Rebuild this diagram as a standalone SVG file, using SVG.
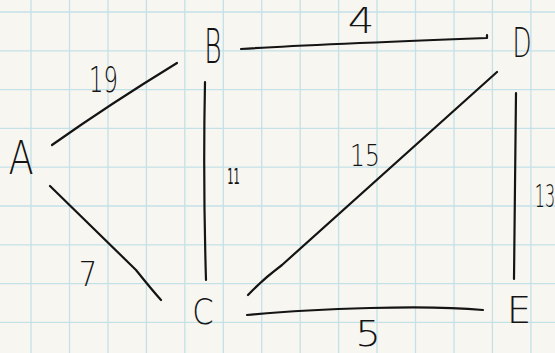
<svg xmlns="http://www.w3.org/2000/svg" width="555" height="353" viewBox="0 0 555 353">
  <style>
    .grid { stroke: #c3e1e7; stroke-width: 1.3; fill: none; }
    .edge { stroke: #141414; stroke-width: 2.2; fill: none; stroke-linecap: round; stroke-linejoin: round; }
    .lbl { font-family: "DejaVu Sans", "Liberation Sans", sans-serif; font-weight: 200; fill: #141414; text-anchor: middle; }
    .sm { font-weight: normal; }
  </style>
  <rect x="0" y="0" width="555" height="353" fill="#f8f6f1"/>
  <g id="grid">
    <path class="grid" d="M31,0V353 M69.5,0V353 M108,0V353 M146.4,0V353 M184.8,0V353 M223.3,0V353 M261.7,0V353 M300.2,0V353 M338.6,0V353 M377,0V353 M415.5,0V353 M454,0V353 M492.4,0V353 M530.9,0V353"/>
    <path class="grid" d="M0,12H555 M0,50.8H555 M0,89.6H555 M0,128.4H555 M0,167.2H555 M0,206H555 M0,244.8H555 M0,283.6H555 M0,322.4H555"/>
  </g>
  <g id="connectors">
    <path id="edge-A-B" class="edge" d="M52,145 Q110,104 177,63"/>
    <path id="edge-A-C" class="edge" d="M50,186 L136,270 Q152,290 161,300"/>
    <path id="edge-B-C" class="edge" d="M205,82 Q203,180 206,280"/>
    <path id="edge-B-D" class="edge" d="M241,49 Q300,45 487,38 L487,35"/>
    <path id="edge-D-C" class="edge" d="M497,72 L282,265 Q262,280 248,295"/>
    <path id="edge-D-E" class="edge" d="M516,93 Q515,190 514,279"/>
    <path id="edge-C-E" class="edge" d="M247,315 Q300,310 370,308 Q440,306 483,310"/>
  </g>
  <g id="edge-labels">
    <text class="lbl" font-size="36" transform="translate(103.5,92) scale(0.63,1)">19</text>
    <text class="lbl" font-size="35" transform="translate(361,33) scale(1.2,1)">4</text>
    <text class="lbl sm" font-size="22" transform="translate(233.5,184) scale(0.45,1)">11</text>
    <text class="lbl" font-size="30" transform="translate(365,166) scale(0.78,1)">15</text>
    <text class="lbl" font-size="32" transform="translate(545,207) scale(0.5,1)">13</text>
    <text class="lbl" font-size="36" transform="translate(368,346) scale(1.12,1)">5</text>
    <text class="lbl" font-size="34" transform="translate(88,286) scale(0.85,1)">7</text>
  </g>
  <g id="node-A"><text class="lbl" font-size="46" transform="translate(21,174) scale(0.8,1)">A</text></g>
  <g id="node-B"><text class="lbl" font-size="48" transform="translate(213,63) scale(0.55,1)">B</text></g>
  <g id="node-C"><text class="lbl" font-size="36" transform="translate(203,324) scale(0.85,1)">C</text></g>
  <g id="node-D"><text class="lbl" font-size="40" transform="translate(522,57) scale(0.62,1)">D</text></g>
  <g id="node-E"><text class="lbl" font-size="37" transform="translate(519,323) scale(1.05,1)">E</text></g>
</svg>
